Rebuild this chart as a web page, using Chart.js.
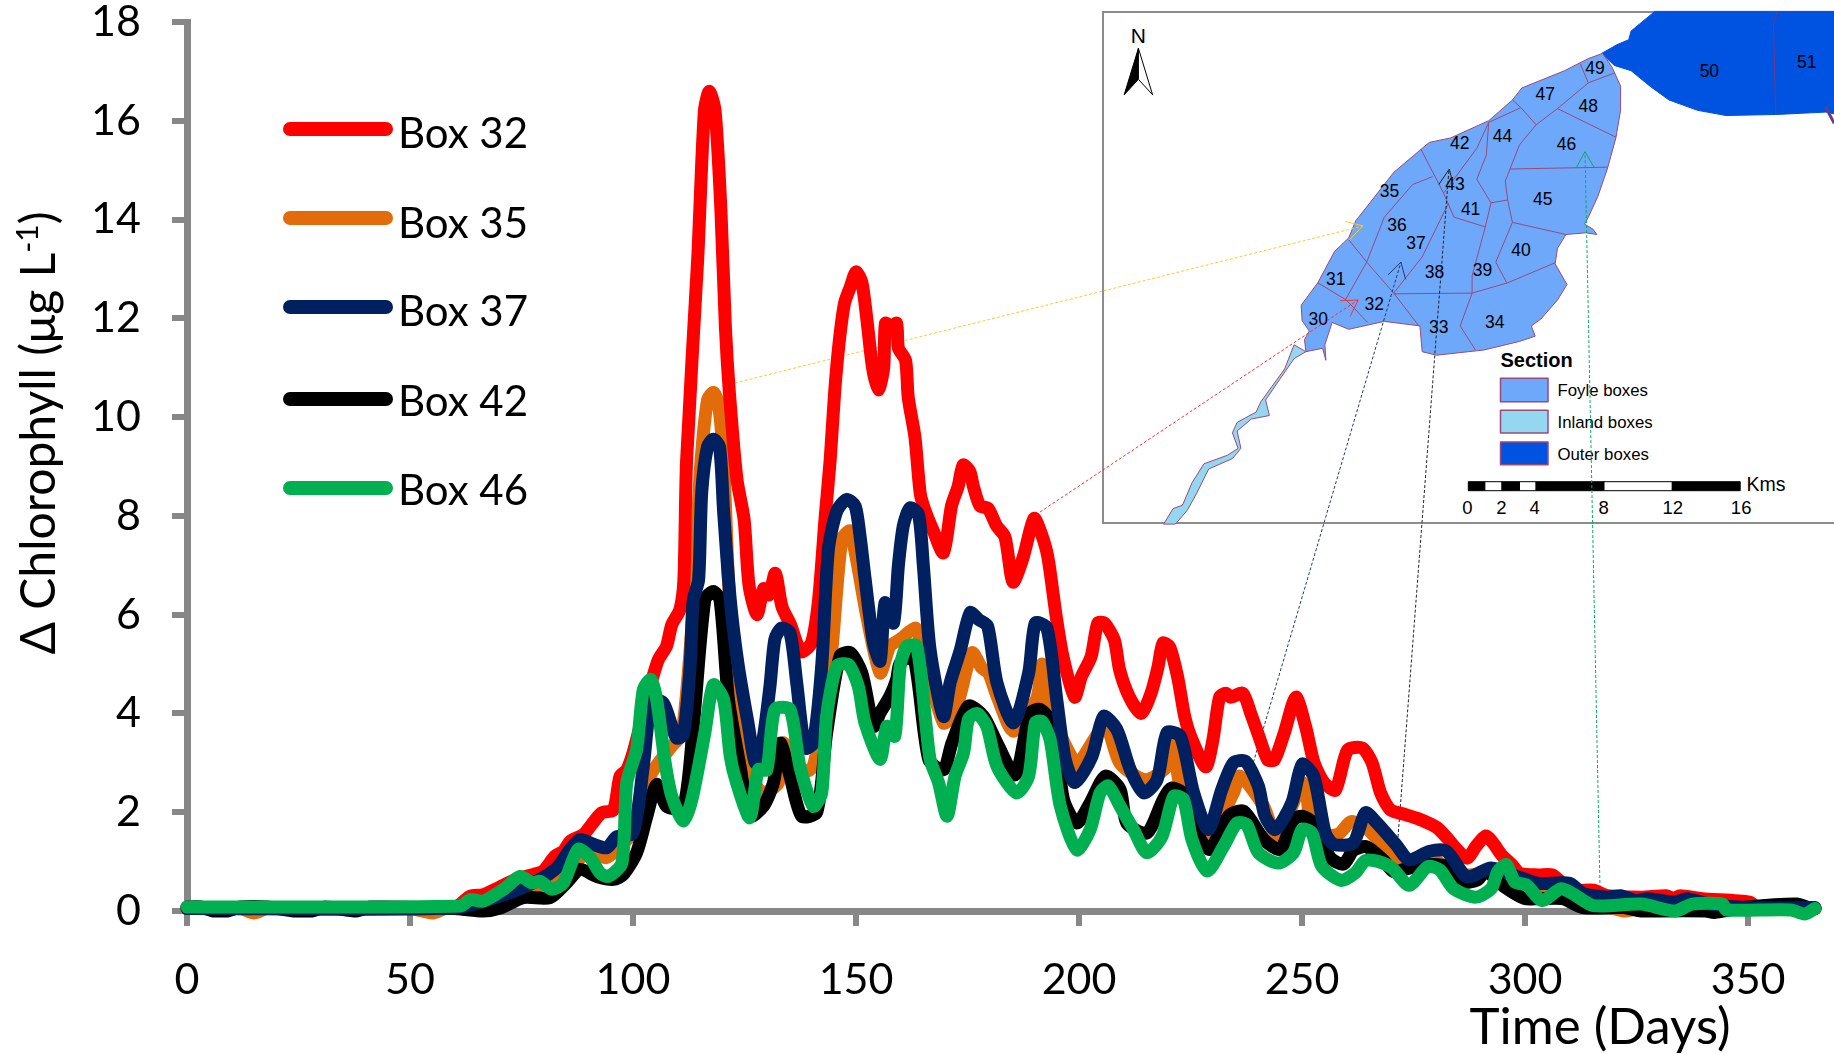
<!DOCTYPE html>
<html>
<head>
<meta charset="utf-8">
<title>Chlorophyll by box</title>
<script src="https://cdn.jsdelivr.net/npm/chart.js@4"></script>
<style>
html, body { margin: 0; padding: 0; background: #fff; }
#wrap { position: relative; width: 1834px; height: 1054px; overflow: hidden; }
#inset { position: absolute; left: 0; top: 0; }
#myChart { position: absolute; left: 0; top: 0; }
#inset text { font-family: "Liberation Sans", Arial, sans-serif; fill: #000; }
</style>
</head>
<body>
<div id="wrap">
<svg id="inset" width="1834" height="1054" xmlns="http://www.w3.org/2000/svg"></svg>
<canvas id="myChart" width="1834" height="1054"></canvas>
</div>
<script>
// values
var xTicks = [0, 50, 100, 150, 200, 250, 300, 350];
var yTicks = [0, 2, 4, 6, 8, 10, 12, 14, 16, 18];
var boxNames = ['Box 32', 'Box 35', 'Box 37', 'Box 42', 'Box 46'];
var boxColors = ['#ff0000', '#e36c0a', '#002060', '#000000', '#00b050'];

var days32 = [0, 60, 63.5, 66.4, 69.8, 74, 77.7, 79.9, 82.5, 84.4, 85.9, 88.9, 90.7, 93, 95.6, 97.1, 98.6, 100, 102, 104, 105.7, 107.5, 108.7, 110.5, 111.4, 112, 114.5, 116, 117.1, 118.4, 119.7, 120.7, 121.6, 123.3, 124.9, 126, 127.8, 129.3, 130.5, 131.9, 133.4, 135.3, 137.7, 140, 141.6, 143.1, 144.2, 145.2, 146.2, 147.4, 148.7, 150, 151.3, 152.4, 153.7, 155, 156.2, 156.6, 157.9, 159.1, 159.5, 161.1, 161.7, 163.2, 164.4, 165.5, 167.3, 169.6, 171.4, 172.9, 174, 175.5, 176.3, 177.8, 179.6, 181.5, 183.4, 185.2, 187.5, 189.9, 191.5, 193, 194.9, 196.4, 199, 200.5, 202.7, 204.2, 205.7, 207.9, 209.1, 211.3, 213.9, 216.1, 217.7, 218.8, 220.3, 222.1, 223.7, 225.1, 228.4, 230, 231.5, 232.9, 234, 236.7, 238.5, 240.4, 242.3, 243.8, 246, 248.6, 250.8, 252.7, 255, 257.5, 260.2, 263.5, 265.7, 267.6, 269.8, 272.5, 276, 280.2, 282.4, 284.4, 287, 289, 291.2, 292.8, 294.7, 297, 298.9, 303, 306.1, 308.4, 310.7, 315.3, 318.4, 326, 331.7, 333.2, 334.8, 339.7, 350.4, 352, 365];
var box32 = [0.05, 0.08, 0.3, 0.33, 0.47, 0.65, 0.74, 0.81, 1.11, 1.21, 1.41, 1.55, 1.75, 1.99, 2.05, 2.73, 2.86, 3.2, 3.9, 4.6, 5.09, 5.36, 5.8, 6.1, 6.7, 9.1, 13.2, 16.2, 16.6, 16.2, 14.2, 11.84, 10.5, 8.74, 7.93, 6.6, 6.0, 6.53, 6.4, 6.84, 6.16, 5.8, 5.25, 5.43, 6.3, 8.0, 9.13, 10.5, 11.5, 12.3, 12.63, 12.94, 12.73, 12.0, 11.0, 10.55, 11.0, 11.9, 11.83, 11.9, 11.4, 11.15, 10.4, 9.6, 8.45, 8.1, 7.7, 7.25, 8.2, 8.6, 9.03, 8.9, 8.6, 8.2, 8.15, 7.8, 7.57, 6.66, 7.17, 7.95, 7.65, 7.17, 5.95, 5.15, 4.33, 4.74, 5.15, 5.83, 5.83, 5.49, 4.88, 4.33, 4.0, 4.4, 4.94, 5.42, 5.35, 4.74, 3.93, 3.52, 2.92, 3.46, 4.33, 4.41, 4.33, 4.41, 4.0, 3.52, 3.06, 3.06, 3.6, 4.33, 3.73, 3.0, 2.59, 2.45, 3.26, 3.3, 3.0, 2.39, 2.05, 1.97, 1.87, 1.69, 1.49, 1.28, 1.07, 1.31, 1.52, 1.38, 1.14, 0.94, 0.76, 0.73, 0.73, 0.56, 0.42, 0.42, 0.31, 0.28, 0.31, 0.25, 0.31, 0.25, 0.18, 0.07, 0.05];

var days35 = [0, 12, 15, 18, 50, 55, 58, 66, 75, 85, 90, 94, 97, 100, 103.8, 108.3, 111, 113.9, 115, 116.7, 118, 119.1, 120.3, 121.4, 123.2, 125.5, 129, 132.6, 133.7, 137, 140.4, 144.2, 146.8, 148.7, 152.4, 155.4, 157.6, 159.9, 163.3, 164.4, 169.6, 172.6, 176, 178.2, 179.7, 181.6, 185.3, 190.5, 191.7, 192.8, 199.5, 200.6, 205.9, 209.2, 214.8, 219.7, 221, 222.7, 229, 234.6, 236.1, 241.4, 244.4, 250.3, 252.6, 258, 261, 264.7, 269.5, 272.5, 280, 286, 295.4, 303, 310.7, 322.2, 326, 365];
var box35 = [0.05, 0.05, -0.04, 0.05, 0.05, -0.04, 0.05, 0.05, 0.35, 0.8, 1.2, 1.08, 1.3, 1.6, 2.73, 3.3, 3.6, 6.7, 8.8, 10.35, 10.5, 10.3, 9.1, 6.7, 4.28, 2.93, 2.4, 2.6, 3.4, 2.8, 2.93, 4.95, 7.52, 7.69, 5.97, 4.82, 5.36, 5.5, 5.73, 5.5, 3.81, 4.15, 5.23, 4.92, 4.82, 4.35, 3.64, 4.3, 5.0, 4.2, 2.93, 3.07, 3.74, 2.99, 2.66, 2.93, 3.47, 2.53, 1.52, 2.39, 2.73, 2.12, 1.48, 2.59, 1.58, 1.55, 1.81, 1.65, 1.18, 0.94, 1.0, 0.73, 0.8, 0.45, 0.31, 0.0, 0.05, 0.05];

var days37 = [0, 60, 70, 76, 81, 83.3, 85.5, 88.1, 91.1, 94.1, 96.3, 100, 102.3, 104.2, 106.8, 108.7, 109.8, 111.3, 112.8, 113.5, 114.7, 115.4, 116.7, 118, 119.4, 120.3, 121.8, 123.6, 125.9, 127.4, 129, 130.7, 131.8, 133.3, 135.2, 136.7, 138.6, 140.4, 142.3, 143.8, 145.7, 147.9, 149.8, 150.9, 152, 153.9, 155.4, 156.5, 158.4, 159.5, 160.6, 162.1, 164, 165.1, 166.6, 169.6, 171.1, 173.4, 175.6, 177.5, 179.5, 181.6, 185.3, 188.7, 190.2, 192.8, 195, 196.9, 199.1, 202.9, 205.5, 208.5, 211.5, 214.5, 217.5, 219.7, 222.7, 225.7, 229, 232, 234.6, 237.3, 240.2, 241.7, 244, 247.7, 250, 252.6, 255.2, 257.1, 261.5, 264.2, 266.8, 271, 274, 278.6, 282.4, 287, 292.4, 298.5, 303, 310, 313, 318.4, 321.4, 324.8, 327.5, 333.6, 336.3, 341.3, 350, 365];
var box37 = [0.05, 0.06, 0.3, 0.5, 0.74, 0.91, 1.2, 1.45, 1.35, 1.28, 1.5, 1.58, 2.93, 4.28, 4.21, 3.74, 3.5, 3.57, 4.96, 6.3, 6.7, 8.47, 9.4, 9.55, 9.4, 8.1, 6.3, 4.96, 3.74, 3.0, 3.4, 4.55, 5.5, 5.73, 5.63, 4.62, 3.3, 3.4, 4.96, 7.32, 8.1, 8.33, 8.2, 7.59, 6.75, 5.43, 5.06, 6.24, 5.83, 7.0, 7.8, 8.16, 8.03, 6.98, 5.29, 3.94, 4.62, 5.29, 6.04, 5.9, 5.77, 4.62, 3.81, 4.82, 5.83, 5.73, 4.28, 3.07, 2.6, 3.13, 3.94, 3.67, 2.86, 2.39, 2.66, 3.61, 3.54, 2.39, 1.65, 2.46, 3.0, 3.03, 2.53, 1.92, 1.65, 2.19, 2.97, 2.73, 1.58, 1.35, 1.38, 1.99, 1.78, 1.35, 1.04, 1.21, 1.21, 0.69, 0.87, 0.69, 0.56, 0.56, 0.35, 0.28, 0.31, 0.21, 0.25, 0.18, 0.25, 0.14, 0.07, 0.07];

var days42 = [0, 3, 6, 9, 12, 18, 24, 28, 31, 38, 41, 60, 66.4, 70.2, 75.4, 81.4, 85.1, 88.1, 91.9, 95.6, 97.8, 100.8, 103.1, 105.3, 107.5, 111.3, 113.5, 116.1, 118, 119.5, 121.4, 124, 126.2, 129.2, 131.5, 133, 135.2, 137.8, 141.2, 143.4, 146.4, 148.7, 151.3, 153.9, 155.4, 157.6, 159.1, 159.9, 162.9, 166.3, 169.6, 171.5, 175.2, 178.6, 181.6, 185.7, 189, 191.3, 194.3, 196.5, 199.5, 202.5, 205.9, 209.2, 210.7, 215.2, 218.9, 220.8, 224.2, 227.2, 229.4, 233.5, 236.9, 241.4, 245.1, 248.1, 250, 252.6, 256.3, 259.3, 261.5, 264.5, 268.3, 270.5, 274, 278.6, 282.4, 286.3, 289.3, 291.2, 295.4, 300, 303, 308.4, 313, 322.2, 326, 340.5, 342.4, 350, 361, 363.4, 365];
var box42 = [0.08, 0.08, 0.0, 0.0, 0.08, 0.08, 0.0, 0.0, 0.08, 0.0, 0.08, 0.05, 0.0, 0.06, 0.27, 0.27, 0.57, 0.84, 0.7, 0.64, 0.74, 1.18, 1.92, 2.56, 2.12, 2.1, 3.74, 6.3, 6.47, 6.3, 4.28, 2.93, 1.92, 2.12, 2.6, 3.4, 2.73, 1.92, 2.0, 3.6, 5.16, 5.23, 4.82, 3.74, 4.01, 4.35, 4.69, 5.02, 5.16, 3.07, 2.86, 3.4, 4.15, 3.94, 3.4, 2.76, 4.0, 4.08, 3.74, 2.26, 1.78, 2.19, 2.73, 2.46, 1.78, 1.58, 2.26, 2.49, 2.32, 1.45, 1.25, 1.92, 2.02, 1.45, 1.25, 1.85, 1.92, 1.78, 1.08, 0.95, 1.23, 1.3, 1.02, 0.8, 0.87, 0.94, 0.9, 0.59, 0.63, 0.8, 0.49, 0.25, 0.25, 0.25, 0.07, 0.07, 0.0, 0.0, -0.03, 0.08, 0.14, 0.07, 0.05];

var days46 = [0, 61.2, 63.5, 66.4, 71, 74.7, 77.3, 79.2, 81.8, 84.4, 87.7, 90.4, 92.6, 94.5, 97.5, 98.6, 100.8, 102.3, 104, 105.3, 107.2, 108.7, 111.3, 113.2, 116.1, 118, 120.3, 121.8, 123.2, 126.2, 128.1, 130, 131.8, 135.2, 137.4, 140.4, 142.3, 143.4, 145.7, 148.3, 150.5, 152, 155.4, 156.9, 158.7, 159.9, 161.4, 163.6, 165.5, 166.6, 168.5, 170.4, 172.2, 174.1, 175.2, 177.1, 179.3, 181.6, 186, 188.7, 190.2, 191.7, 193.5, 195.8, 199.5, 202.5, 204.7, 206.6, 209.2, 212.2, 215.2, 218.6, 221.2, 223.4, 225.3, 228.7, 232.4, 235.4, 237.6, 240.2, 244.7, 248.1, 250, 252.2, 254.4, 258.7, 261.9, 264.2, 267.2, 270.2, 274, 278.2, 280.9, 284, 288.9, 292.4, 293.9, 295.8, 297.7, 300.4, 303.8, 308, 310.7, 315.3, 326, 333.6, 337.5, 344.3, 345.1, 359.6, 362.7, 365];
var box46 = [0.08, 0.1, 0.23, 0.2, 0.44, 0.7, 0.57, 0.6, 0.44, 0.57, 1.25, 1.08, 0.77, 0.7, 0.97, 2.6, 3.27, 4.48, 4.69, 4.28, 3.0, 2.32, 1.82, 2.26, 3.61, 4.58, 4.28, 3.13, 2.6, 1.89, 2.86, 2.86, 4.08, 4.08, 2.93, 2.12, 2.39, 3.94, 4.96, 4.99, 4.55, 3.81, 3.07, 3.74, 3.54, 4.96, 5.36, 5.36, 3.94, 3.07, 2.6, 1.92, 2.73, 3.2, 3.88, 4.0, 3.74, 2.93, 2.39, 2.73, 3.81, 3.84, 3.47, 2.12, 1.24, 1.65, 2.39, 2.53, 2.12, 1.65, 1.18, 1.51, 2.32, 2.26, 1.45, 0.81, 1.31, 1.78, 1.75, 1.18, 0.97, 1.18, 1.65, 1.58, 0.91, 0.62, 0.77, 1.02, 1.0, 0.87, 0.52, 0.9, 0.83, 0.45, 0.28, 0.45, 0.8, 0.94, 0.59, 0.52, 0.21, 0.45, 0.35, 0.11, 0.14, 0.0, 0.14, 0.14, 0.02, 0.02, -0.06, 0.05];

var allDays = [days32, days35, days37, days42, days46];
var allValues = [box32, box35, box37, box42, box46];
var drawOrder = [4, 5, 2, 3, 1]; // orange lowest, green on top

function toPoints(xs, ys) {
    return xs.map(function (d, i) { return { x: d, y: ys[i] }; });
}

var datasets = boxNames.map(function (name, i) {
    return {
        label: name,
        data: toPoints(allDays[i], allValues[i]),
        borderColor: boxColors[i],
        backgroundColor: boxColors[i],
        borderWidth: 13,
        borderJoinStyle: 'round',
        borderCapStyle: 'round',
        pointRadius: 0,
        tension: 0.25,
        clip: false,
        order: drawOrder[i]
    };
});

// legend and the two axis titles sit where the library would not put them
var figureText = {
    id: 'figureText',
    afterDraw: function (chart) {
        var ctx = chart.ctx;
        var legendY = [129, 218, 307, 399, 488];
        var textY = [134, 224, 312, 402, 491];
        ctx.save();
        boxNames.forEach(function (name, i) {
            ctx.strokeStyle = boxColors[i];
            ctx.lineWidth = 14;
            ctx.lineCap = 'round';
            ctx.beginPath();
            ctx.moveTo(290, legendY[i]);
            ctx.lineTo(386, legendY[i]);
            ctx.stroke();
            ctx.fillStyle = '#000';
            ctx.font = '42px Lato';
            ctx.textBaseline = 'middle';
            ctx.textAlign = 'left';
            ctx.fillText(name, 398, textY[i]);
        });

        ctx.font = '51px Lato';
        ctx.textAlign = 'center';
        ctx.fillText('Time (Days)', 1600, 1028);

        // rotated y title with the superscript drawn by hand
        ctx.translate(38, 433);
        ctx.rotate(-Math.PI / 2);
        var first = 'Δ Chlorophyll (μg L';
        var sup = '-1';
        var last = ')';
        ctx.font = '48px Lato';
        var w1 = ctx.measureText(first).width;
        var w3 = ctx.measureText(last).width;
        ctx.font = '30px Lato';
        var w2 = ctx.measureText(sup).width;
        var start = -(w1 + w2 + w3) / 2;
        ctx.textAlign = 'left';
        ctx.textBaseline = 'alphabetic';
        ctx.font = '48px Lato';
        ctx.fillText(first, start, 17);
        ctx.fillText(last, start + w1 + w2, 17);
        ctx.font = '30px Lato';
        ctx.fillText(sup, start + w1, 0);
        ctx.restore();
    }
};

var myChart = new Chart(document.getElementById('myChart').getContext('2d'), {
    type: 'line',
    data: { datasets: datasets },
    options: {
        responsive: false,
        animation: false,
        layout: { padding: { top: 22, right: 19, left: 0, bottom: 0 } },
        plugins: {
            legend: { display: false },
            title: { display: false },
            tooltip: { enabled: false }
        },
        scales: {
            x: {
                type: 'linear',
                min: 0,
                max: 365,
                afterFit: function (s) { s.height = 143; },
                afterBuildTicks: function (s) { s.ticks = xTicks.map(function (v) { return { value: v }; }); },
                border: { color: '#878787', width: 7 },
                grid: { drawOnChartArea: false, color: '#878787', lineWidth: 6, tickLength: 15 },
                ticks: { color: '#000', font: { family: 'Lato', size: 43 }, padding: 28, maxRotation: 0, autoSkip: false }
            },
            y: {
                min: 0,
                max: 18,
                // the label padding would push the top of the plot down
                afterFit: function (s) { s.width = 187; s.paddingTop = 0; s.paddingBottom = 0; },
                afterBuildTicks: function (s) { s.ticks = yTicks.map(function (v) { return { value: v }; }); },
                border: { color: '#878787', width: 7 },
                grid: { drawOnChartArea: false, color: '#878787', lineWidth: 6, tickLength: 15 },
                ticks: { color: '#000', font: { family: 'Lato', size: 43 }, padding: 31, autoSkip: false }
            }
        }
    },
    plugins: [figureText]
});

// inset map, drawn underneath the canvas so the curves cover the leader lines
var NS = 'http://www.w3.org/2000/svg';
var svg = document.getElementById('inset');
function mx(v) { return 1090 + v / 2.107; }
function my(v) { return v / 2.9; }
function pts(list) {
    return list.map(function (p) { return mx(p[0]).toFixed(1) + ',' + my(p[1]).toFixed(1); }).join(' ');
}
function add(tag, attrs, text) {
    var el = document.createElementNS(NS, tag);
    Object.keys(attrs).forEach(function (k) { el.setAttribute(k, attrs[k]); });
    if (text) el.textContent = text;
    svg.appendChild(el);
    return el;
}
function poly(list, fill, stroke, width) {
    add('polygon', { points: pts(list), fill: fill, stroke: stroke, 'stroke-width': width || 1, 'stroke-linejoin': 'round' });
}
function line(list, stroke, width) {
    add('polyline', { points: pts(list), fill: 'none', stroke: stroke, 'stroke-width': width || 1 });
}
function label(t, x, y, size, weight, anchor) {
    add('text', { x: mx(x), y: my(y), 'font-size': size, 'font-weight': weight || 'normal', 'text-anchor': anchor || 'middle', 'dominant-baseline': 'central' }, t);
}

var frameColor = '#8c8c8c';
var edgeColor = '#9a4a78';
add('polyline', { points: '1834,12 1103,12 1103,523 1834,523', fill: 'none', stroke: frameColor, 'stroke-width': 2 });

// outer boxes
poly([[1078, 155], [1110, 130], [1135, 115], [1140, 90], [1190, 33], [1568, 33], [1568, 330], [1550, 325], [1445, 332], [1340, 335], [1280, 320], [1220, 290], [1180, 250], [1140, 205], [1105, 190]], '#0052e0', '#0052e0', 1);
line([[1448, 33], [1440, 70], [1445, 332]], '#6a3a8a', 1.2);
line([[1550, 310], [1568, 358]], '#6a3a8a', 3);

// inland river
poly([[430, 1000], [410, 1070], [360, 1165], [350, 1195], [310, 1225], [300, 1255], [312, 1300], [290, 1320], [240, 1345], [215, 1400], [195, 1465], [175, 1475], [155, 1520], [180, 1520], [205, 1480], [225, 1430], [250, 1360], [300, 1330], [318, 1300], [310, 1250], [340, 1215], [378, 1205], [370, 1160], [400, 1100], [430, 1040], [455, 1020]], '#93d8f0', edgeColor, 1);

// foyle boxes
poly([[1080, 155], [1100, 195], [1118, 250], [1118, 320], [1108, 400], [1090, 490], [1070, 570], [1050, 630], [1042, 650], [1060, 665], [1068, 680], [1045, 675], [1003, 680], [985, 720], [980, 765], [1005, 825], [985, 870], [950, 925], [930, 945], [938, 975], [905, 990], [830, 1015], [730, 1030], [700, 1020], [695, 945], [620, 932], [545, 955], [510, 935], [495, 1000], [497, 1045], [490, 1010], [455, 1020], [452, 985], [462, 960], [447, 930], [445, 885], [480, 820], [515, 730], [545, 690], [560, 640], [600, 570], [640, 500], [700, 430], [715, 413], [760, 400], [840, 350], [890, 290], [910, 255], [1000, 205], [1050, 170]], '#6ea8fb', edgeColor, 1);

var boxEdges = [
    [[697, 432], [745, 560], [767, 630], [833, 658]],
    [[722, 512], [680, 535], [620, 630], [583, 760], [538, 870]],
    [[545, 695], [583, 760], [640, 850], [693, 945]],
    [[480, 820], [540, 870], [585, 935]],
    [[755, 590], [700, 745], [640, 850]],
    [[640, 852], [805, 850], [880, 820], [980, 762]],
    [[805, 850], [780, 945], [812, 1015]],
    [[833, 658], [805, 800], [805, 850]],
    [[845, 588], [833, 658]],
    [[815, 520], [845, 588], [880, 580]],
    [[840, 355], [815, 430], [745, 560]],
    [[840, 355], [835, 450], [815, 520]],
    [[880, 580], [875, 525], [885, 490], [1090, 485]],
    [[885, 490], [905, 420], [940, 362], [985, 315], [1050, 240], [1105, 212]],
    [[985, 315], [1108, 398]],
    [[908, 312], [940, 362]],
    [[840, 355], [908, 312], [890, 290]],
    [[1050, 240], [1033, 185]],
    [[880, 580], [890, 645], [855, 760], [878, 820]],
    [[890, 645], [1003, 680]]
];
boxEdges.forEach(function (e) { line(e, edgeColor, 1); });

var boxLabels = [['30', 481, 925], ['31', 518, 810], ['32', 599, 882], ['33', 735, 948], ['34', 853, 934], ['35', 631, 553], ['36', 647, 653], ['37', 687, 705], ['38', 726, 789], ['39', 827, 783], ['40', 908, 725], ['41', 802, 605], ['42', 779, 414], ['43', 769, 533], ['44', 869, 394], ['45', 954, 577], ['46', 1004, 417], ['47', 959, 272], ['48', 1050, 306], ['49', 1064, 196], ['50', 1305, 206], ['51', 1510, 180]];
boxLabels.forEach(function (b) { label(b[0], b[1], b[2], 17.5); });

// north arrow
label('N', 102, 102, 21);
poly([[102, 140], [72, 275], [102, 230]], '#000', '#000', 1);
poly([[102, 140], [132, 275], [102, 230]], '#fff', '#000', 1);

// map legend
label('Section', 865, 1043, 20, 'bold', 'start');
poly([[865, 1097], [965, 1097], [965, 1165], [865, 1165]], '#6ea8fb', edgeColor, 1.5);
poly([[865, 1190], [965, 1190], [965, 1256], [865, 1256]], '#93d8f0', edgeColor, 1.5);
poly([[865, 1282], [965, 1282], [965, 1348], [865, 1348]], '#0052e0', edgeColor, 1.5);
label('Foyle boxes', 985, 1133, 16.8, 'normal', 'start');
label('Inland boxes', 985, 1225, 16.8, 'normal', 'start');
label('Outer boxes', 985, 1317, 16.8, 'normal', 'start');

// scale bar
var scaleEdges = [797, 832, 868, 905, 940, 1083, 1227, 1370];
for (var i = 0; i < scaleEdges.length - 1; i++) {
    poly([[scaleEdges[i], 1397], [scaleEdges[i + 1], 1397], [scaleEdges[i + 1], 1423], [scaleEdges[i], 1423]], i % 2 ? '#fff' : '#000', '#000', 1);
}
label('Kms', 1383, 1405, 19.5, 'normal', 'start');
[['0', 795], ['2', 867], ['4', 937], ['8', 1082], ['12', 1228], ['16', 1372]].forEach(function (s) { label(s[0], s[1], 1472, 18.5); });

// leader lines from the curves to the boxes
var leaders = [
    ['#ffc830', [735, 383], [1363, 226], [[538, 642], [575, 655], [547, 695]]],
    ['#ff3030', [1040, 512], [1358, 300], [[527, 872], [565, 870], [548, 918]]],
    ['#22386e', [1252, 767], [1401, 262], [[628, 797], [655, 760], [665, 810]]],
    ['#222222', [1398, 837], [1449, 169], [[735, 535], [757, 490], [765, 535]]],
    ['#00b060', [1600, 888], [1585, 152], [[1025, 485], [1043, 440], [1062, 485]]]
];
leaders.forEach(function (l) {
    add('line', { x1: l[1][0], y1: l[1][1], x2: l[2][0], y2: l[2][1], stroke: l[0], 'stroke-width': 1, 'stroke-dasharray': '3 2' });
    line(l[3], l[0], 1);
});
</script>
</body>
</html>
